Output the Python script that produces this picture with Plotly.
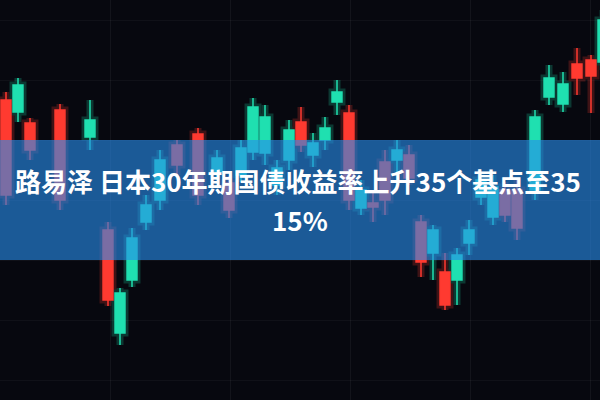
import plotly.graph_objects as go

# Session positions (x) and candle values (higher = up on screen)
sessions = [6, 18, 30, 60, 90, 108, 120, 132, 146, 160, 177, 198, 217, 229, 241, 253,
            265, 277, 289, 301, 313, 325, 337, 349, 361, 373, 385, 397, 409, 421, 433,
            445, 457, 469, 481, 493, 505, 517, 535, 549, 563, 577, 591, 603]

opens = [300, 288, 277, 290, 263, 170, 67, 120, 178, 200, 255, 266, 228, 217, 225, 248,
         247, 215, 240, 278, 245, 260, 298, 287, 192, 197, 238, 240, 245, 178, 147,
         128, 120, 157, 203, 183, 210, 210, 210, 303, 296, 336, 340, 338]
closes = [205, 315, 250, 200, 280, 100, 107, 162, 195, 240, 235, 205, 242, 190, 252, 293,
          283, 232, 270, 255, 257, 272, 308, 200, 210, 193, 200, 250, 222, 138, 170,
          95, 145, 170, 220, 213, 185, 172, 283, 322, 316, 322, 324, 380]
highs = [308, 322, 282, 296, 300, 178, 112, 172, 205, 250, 260, 272, 250, 224, 260, 302,
         295, 240, 280, 293, 267, 283, 320, 295, 220, 210, 250, 260, 255, 185, 175,
         147, 152, 180, 228, 225, 218, 220, 290, 335, 328, 352, 345, 390]
lows = [195, 278, 240, 190, 250, 94, 55, 113, 170, 190, 225, 195, 220, 182, 218, 240,
        235, 205, 230, 248, 233, 250, 285, 190, 185, 178, 185, 228, 215, 123, 120,
        90, 95, 145, 195, 175, 178, 160, 200, 295, 288, 305, 287, 330]

title_line1 = "路易泽 日本30年期国债收益率上升35个基点至35"
title_line2 = "15%"

GREEN = "#1fe0b0"
RED = "#ff3a30"

fig = go.Figure()

# soft glow layer (photo blur feel)
fig.add_trace(go.Candlestick(
    x=sessions, open=opens, high=highs, low=lows, close=closes,
    increasing=dict(line=dict(color=GREEN, width=7), fillcolor=GREEN),
    decreasing=dict(line=dict(color=RED, width=7), fillcolor=RED),
    opacity=0.22, whiskerwidth=0, hoverinfo="skip", showlegend=False,
))
# main candles
fig.add_trace(go.Candlestick(
    x=sessions, open=opens, high=highs, low=lows, close=closes,
    increasing=dict(line=dict(color=GREEN, width=1.5), fillcolor=GREEN),
    decreasing=dict(line=dict(color=RED, width=1.5), fillcolor=RED),
    whiskerwidth=0, showlegend=False,
))

fig.update_layout(
    width=600, height=400,
    margin=dict(l=0, r=0, t=0, b=0),
    paper_bgcolor="#07080f",
    plot_bgcolor="#07080f",
    boxgap=0.1, boxgroupgap=0.08,
    showlegend=False,
    xaxis=dict(range=[0, 600], rangeslider=dict(visible=False), showticklabels=False,
               showgrid=True, gridcolor="rgba(255,255,255,0.05)", dtick=120, tick0=110,
               zeroline=False, showline=False, ticks=""),
    yaxis=dict(range=[0, 400], showticklabels=False, showgrid=True,
               gridcolor="rgba(255,255,255,0.04)", dtick=60, tick0=20,
               zeroline=False, showline=False, ticks=""),
    shapes=[dict(type="rect", xref="paper", yref="paper", x0=0, x1=1, y0=0.35, y1=0.65,
                 fillcolor="rgba(40,140,235,0.62)", line=dict(width=0), layer="above")],
    annotations=[
        dict(text=title_line1, xref="paper", yref="paper", x=0.497, y=0.548,
             xanchor="center", yanchor="middle", showarrow=False,
             font=dict(family="Noto Sans CJK SC", size=26, color="white", weight="bold")),
        dict(text=title_line2, xref="paper", yref="paper", x=0.5, y=0.452,
             xanchor="center", yanchor="middle", showarrow=False,
             font=dict(family="Noto Sans CJK SC", size=26, color="white", weight="bold")),
    ],
)

fig.write_html(
    "out.html",
    config={"displayModeBar": False},
    post_script="document.body.style.margin='0';document.body.style.overflow='hidden';"
                "document.documentElement.style.background='#07080f';",
)
